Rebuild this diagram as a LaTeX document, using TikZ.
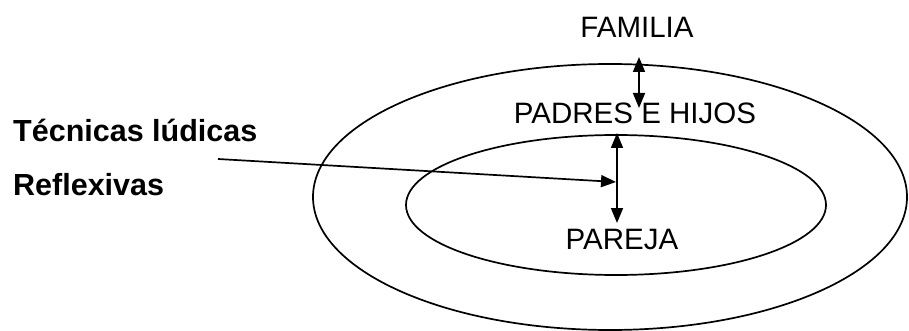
\documentclass[tikz,border=0pt]{standalone}
\usepackage{fontspec}
\setmainfont{Liberation Sans}
\usetikzlibrary{arrows.meta}
\begin{document}
\begin{tikzpicture}[x=1pt,y=-1pt,
  ring/.style={line width=1.7pt},
  conn/.style={line width=1.7pt,{Triangle[width=12pt,length=15pt]}-{Triangle[width=12pt,length=15pt]}},
  pointer/.style={line width=1.7pt,-{Triangle[width=12pt,length=15pt]}},
  lbl/.style={inner sep=0pt,font=\fontsize{29.5}{34}\selectfont},
  blbl/.style={inner sep=0pt,anchor=base west,font=\fontsize{30.5}{36}\selectfont\bfseries}]
\useasboundingbox (0,0) rectangle (909,331);
\draw[ring] (610,197) ellipse [x radius=297, y radius=133];
\draw[ring] (616,205) ellipse [x radius=210, y radius=70];
\node[lbl,anchor=base] (familia) at (637,38) {FAMILIA};
\node[lbl,anchor=base] (padres) at (635,124) {PADRES E HIJOS};
\node[lbl,anchor=base] (pareja) at (622,249) {PAREJA};
\node[blbl] (tecnicas) at (13,142) {Técnicas lúdicas};
\node[blbl] (reflex) at (13,195) {Reflexivas};
\coordinate (a1) at (639,57);
\coordinate (b1) at (639,108);
\coordinate (a2) at (617,133);
\coordinate (b2) at (617,223);
\coordinate (s) at (218,159);
\coordinate (t) at (616,182);
\draw[conn] (a1) -- (b1);
\draw[conn] (a2) -- (b2);
\draw[pointer] (s) -- (t);
\end{tikzpicture}
\end{document}
